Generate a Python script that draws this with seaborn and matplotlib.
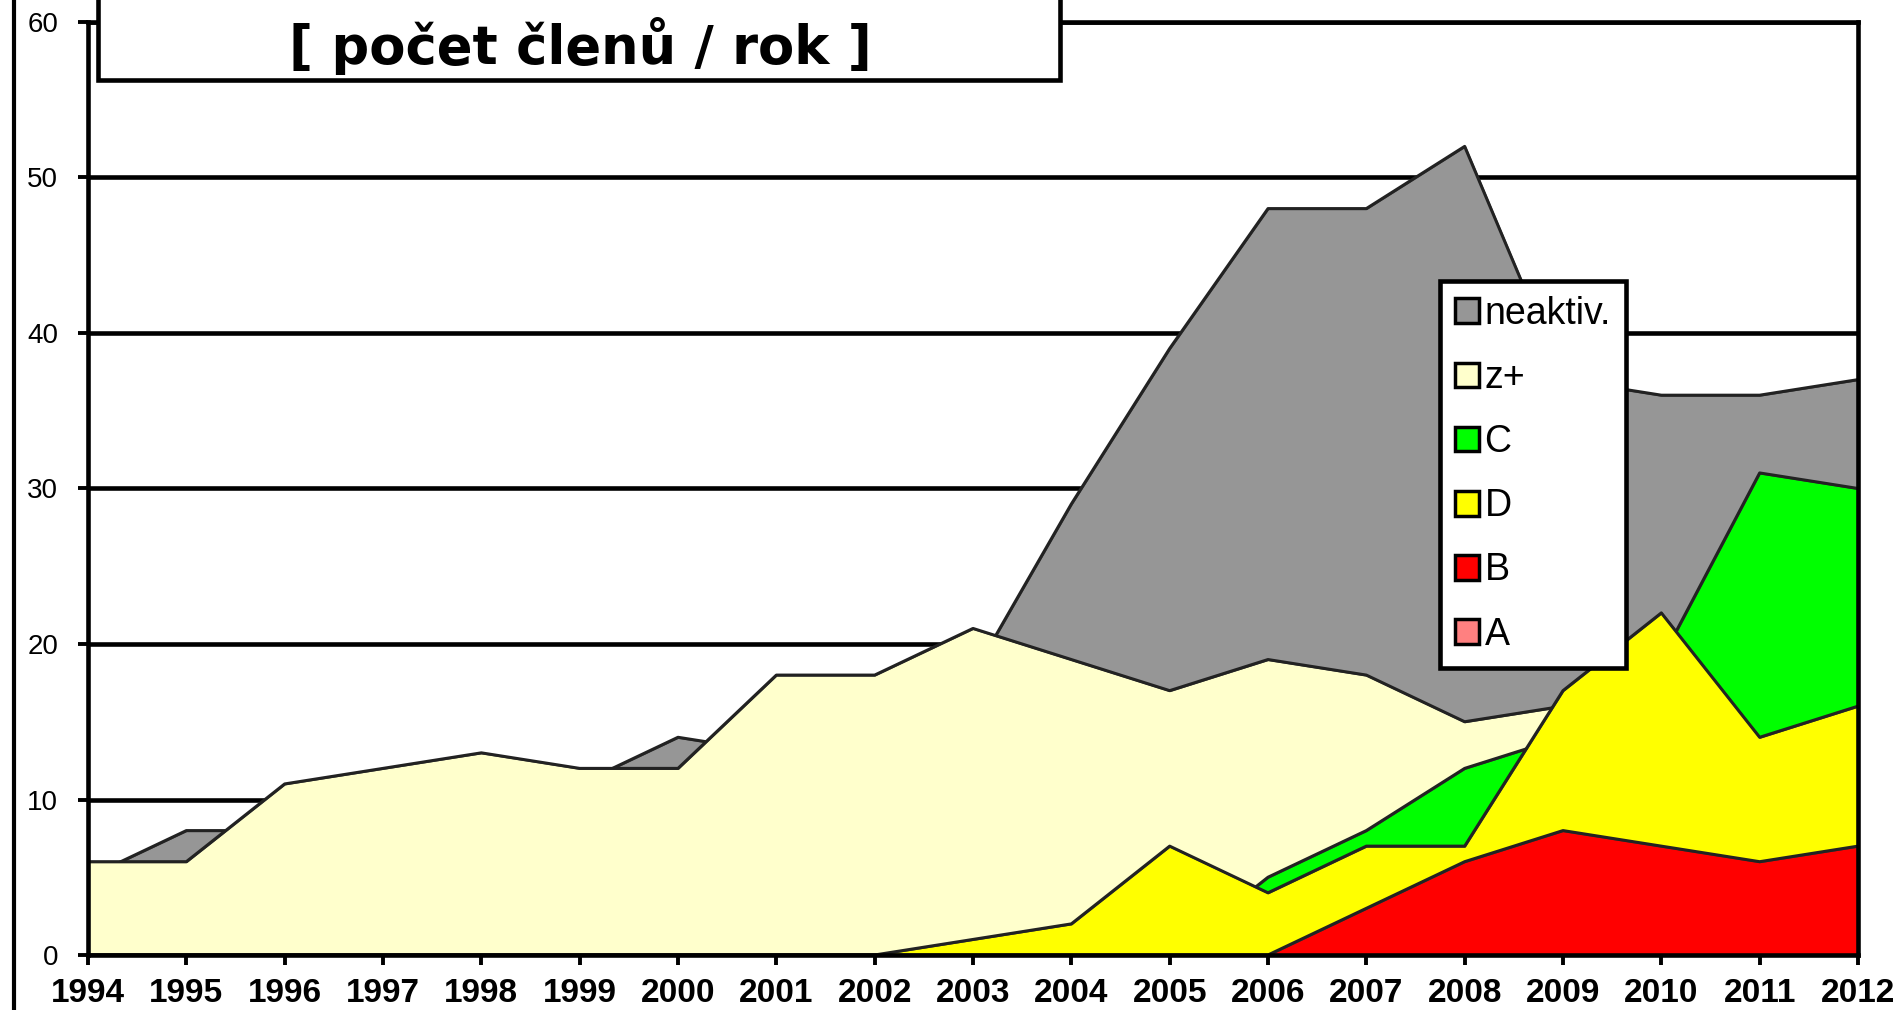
import matplotlib
matplotlib.use("Agg")
import matplotlib.pyplot as plt
from matplotlib.patches import Patch, Rectangle
from matplotlib.lines import Line2D
import pandas as pd
import seaborn as sns

# data (overlapping areas, drawn back to front)
years = [1994, 1995, 1996, 1997, 1998, 1999, 2000, 2001, 2002, 2003,
         2004, 2005, 2006, 2007, 2008, 2009, 2010, 2011, 2012]
neaktiv = [5, 8, 8, 10, 11, 11, 14, 13, 17, 18, 29, 39, 48, 48, 52, 37, 36, 36, 37]
z_plus = [6, 6, 11, 12, 13, 12, 12, 18, 18, 21, 19, 17, 19, 18, 15, 16, 19, 20, 21]
c_vals = [0, 0, 0, 0, 0, 0, 0, 0, 0, 0, 0, 0, 5, 8, 12, 14, 19, 31, 30]
d_vals = [0, 0, 0, 0, 0, 0, 0, 0, 0, 1, 2, 7, 4, 7, 7, 17, 22, 14, 16]
b_vals = [0, 0, 0, 0, 0, 0, 0, 0, 0, 0, 0, 0, 0, 3, 6, 8, 7, 6, 7]
a_vals = [0, 0, 0, 0, 0, 0, 0, 0, 0, 0, 0, 0, 0, 0, 0, 0, 0, 0, 0]

series_names = ["neaktiv.", "z+", "C", "D", "B", "A"]
series_colors = ["#969696", "#FFFFCC", "#00FF00", "#FFFF00", "#FF0000", "#FF8080"]
y_ticks = [0, 10, 20, 30, 40, 50, 60]

df = pd.DataFrame({"rok": years, "neaktiv.": neaktiv, "z+": z_plus,
                   "C": c_vals, "D": d_vals, "B": b_vals, "A": a_vals})
long = df.melt(id_vars="rok", var_name="skupina", value_name="pocet")

sns.set_style("white")
plt.rcParams["font.family"] = ["Liberation Sans", "DejaVu Sans"]
plt.rcParams["text.color"] = "black"
plt.rcParams["xtick.color"] = "black"
plt.rcParams["ytick.color"] = "black"

W, H = 1895, 1010
fig = plt.figure(figsize=(W / 100, H / 100), dpi=100)
ax = fig.add_axes([88 / W, 55 / H, 1770 / W, 933 / H])

# each series: fill then its outline, later series cover earlier ones
for i, (name, col) in enumerate(zip(series_names, series_colors)):
    z = 3 + 2 * i
    ax.fill_between(df["rok"], 0, df[name], facecolor=col,
                    edgecolor="#3a3a3a", linewidth=1.4, zorder=z)
    sns.lineplot(data=long[long["skupina"] == name], x="rok", y="pocet",
                 color="#222222", linewidth=2.2, zorder=z + 0.5, ax=ax, legend=False)

ax.set_xlim(years[0], years[-1])
ax.set_ylim(0, 60)
ax.set_xticks(years)
ax.set_yticks(y_ticks)
ax.set_xlabel("")
ax.set_ylabel("")
ax.set_axisbelow(True)
ax.yaxis.grid(True, color="black", linewidth=3.3)
ax.xaxis.grid(False)

for sp in ax.spines.values():
    sp.set_color("black")
    sp.set_linewidth(3.3)
    sp.set_zorder(20)

ax.tick_params(axis="x", bottom=True, length=7.5, width=2.8, color="black",
               pad=9, labelsize=24, labelcolor="black")
ax.tick_params(axis="y", left=True, length=7.5, width=2.8, color="black",
               pad=14, labelsize=20, labelcolor="black")
for lab in ax.get_xticklabels():
    lab.set_fontweight("bold")

# title box, running off the top of the picture
fig.add_artist(Rectangle((98 / W, 1 - 80 / H), (1060 - 98) / W, 0.2,
                         transform=fig.transFigure, facecolor="white",
                         edgecolor="black", linewidth=3.3, zorder=4, clip_on=False))
fig.text(580 / W, 1 - 46 / H, "[ počet členů / rok ]", ha="center", va="center",
         fontsize=38, fontweight="bold", family=["DejaVu Sans"], color="black",
         zorder=5)

# border line at the left edge
fig.add_artist(Line2D([14 / W, 14 / W], [0, 1], transform=fig.transFigure,
                      color="black", linewidth=3))

handles = [Patch(facecolor=c, edgecolor="black", linewidth=2.5, label=n)
           for n, c in zip(series_names, series_colors)]
leg = fig.legend(handles=handles, loc="upper left",
                 bbox_to_anchor=(1440 / W, 1 - 281 / H), fontsize=27,
                 frameon=True, fancybox=False, framealpha=1, edgecolor="black",
                 handlelength=0.64, handleheight=0.64, handletextpad=0.15,
                 labelspacing=0.75, borderpad=0.4, borderaxespad=0)
leg.get_frame().set_linewidth(3.3)

fig.savefig("out.png", dpi=100)
